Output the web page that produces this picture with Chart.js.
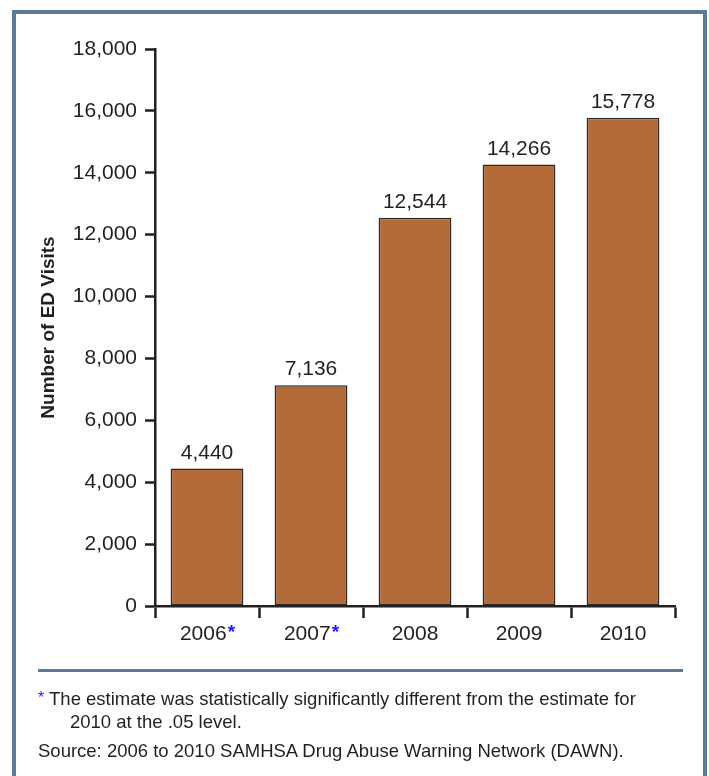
<!DOCTYPE html>
<html>
<head>
<meta charset="utf-8">
<script src="https://cdn.jsdelivr.net/npm/chart.js@4"></script>
<style>
    body { margin: 0; background: #fff; }
    #wrap { position: relative; width: 709px; height: 776px; overflow: hidden; }
    #frame { position: absolute; left: 12px; top: 10px; width: 695px; height: 820px; box-sizing: border-box; border: 4px solid #5a7a98; }
    #rule { position: absolute; left: 38px; top: 669px; width: 645px; height: 3px; background: #5a7a98; }
    canvas { position: absolute; left: 0; top: 0; }
    .note { position: absolute; font-family: 'Liberation Sans', Arial, sans-serif; font-size: 18.5px; color: #231f20; white-space: nowrap; }
    .star { color: #1a1aff; font-size: 16px; vertical-align: 2px; }
</style>
</head>
<body>
<div id="wrap">
    <div id="frame"></div>
    <canvas id="edChart" width="709" height="776"></canvas>
    <div class="note" style="left:38px; top:688px;"><span class="star">*</span> The estimate was statistically significantly different from the estimate for</div>
    <div id="rule"></div>
    <div class="note" style="left:70px; top:711px;">2010 at the .05 level.</div>
    <div class="note" style="left:38px; top:740px;">Source: 2006 to 2010 SAMHSA Drug Abuse Warning Network (DAWN).</div>
</div>
<script>
const years = ['2006', '2007', '2008', '2009', '2010']
const visits = [4440, 7136, 12544, 14266, 15778]
const flagged = [true, true, false, false, false]
const yMax = 18000
const yStep = 2000

const inkColor = '#231f20'
const chartFont = "'Liberation Sans', Arial, sans-serif"

const labelPlugin = {
    id: 'labelPlugin',
    afterDraw(chart) {
        const ctx = chart.ctx
        const xScale = chart.scales.x
        const meta = chart.getDatasetMeta(0)
        ctx.save()
        ctx.font = '21px ' + chartFont
        ctx.fillStyle = inkColor
        ctx.textAlign = 'center'
        ctx.textBaseline = 'alphabetic'

        // value labels above bars
        meta.data.forEach((bar, i) => {
            ctx.fillText(visits[i].toLocaleString('en-US'), bar.x, bar.y - 10)
        })

        // category labels, blue asterisk where flagged
        years.forEach((year, i) => {
            const x = xScale.getPixelForValue(i)
            const y = xScale.top + 34
            ctx.font = '21px ' + chartFont
            const w = ctx.measureText(year).width
            ctx.font = 'bold 19px ' + chartFont
            const starW = flagged[i] ? ctx.measureText('*').width : 0
            const start = x - (w + starW) / 2
            ctx.textAlign = 'left'
            ctx.font = '21px ' + chartFont
            ctx.fillStyle = inkColor
            ctx.fillText(year, start, y)
            if (flagged[i]) {
                ctx.font = 'bold 19px ' + chartFont
                ctx.fillStyle = '#1a1aff'
                ctx.fillText('*', start + w + 1, y - 2)
            }
        })
        ctx.restore()
    }
}

const barChartData = {
    labels: years,
    datasets: [
        {
            data: visits,
            backgroundColor: '#b36b3a',
            borderColor: '#2a2a2a',
            borderWidth: 1.5,
            borderSkipped: false,
            categoryPercentage: 1,
            barPercentage: 0.7,
        },
    ]
}

const barChartConfig = {
    type: 'bar',
    data: barChartData,
    options: {
        responsive: false,
        animation: false,
        layout: {
            padding: { top: 49, right: 34, bottom: 0, left: 0 }
        },
        scales: {
            x: {
                grid: {
                    offset: true,
                    drawOnChartArea: false,
                    drawTicks: true,
                    tickLength: 12,
                    tickWidth: 2.5,
                    tickColor: inkColor,
                },
                border: { display: true, color: inkColor, width: 2.5 },
                ticks: { display: false },
                afterFit: (scale) => { scale.height = 170 },
            },
            y: {
                min: 0,
                max: yMax,
                grid: {
                    drawOnChartArea: false,
                    drawTicks: true,
                    tickLength: 10,
                    tickWidth: 2.5,
                    tickColor: inkColor,
                },
                border: { display: true, color: inkColor, width: 2.5 },
                ticks: {
                    stepSize: yStep,
                    padding: 8,
                    color: inkColor,
                    font: { size: 21, family: chartFont },
                    callback: (value) => value.toLocaleString('en-US'),
                },
                title: {
                    display: true,
                    text: 'Number of ED Visits',
                    color: inkColor,
                    font: { size: 19, weight: 'bold', family: chartFont },
                    padding: { top: 37, bottom: 0 },
                },
                afterFit: (scale) => { scale.width = 155 },
            }
        },
        plugins: {
            legend: { display: false },
            tooltip: { enabled: false },
        }
    },
    plugins: [labelPlugin]
}

new Chart(document.getElementById('edChart'), barChartConfig)
</script>
</body>
</html>
